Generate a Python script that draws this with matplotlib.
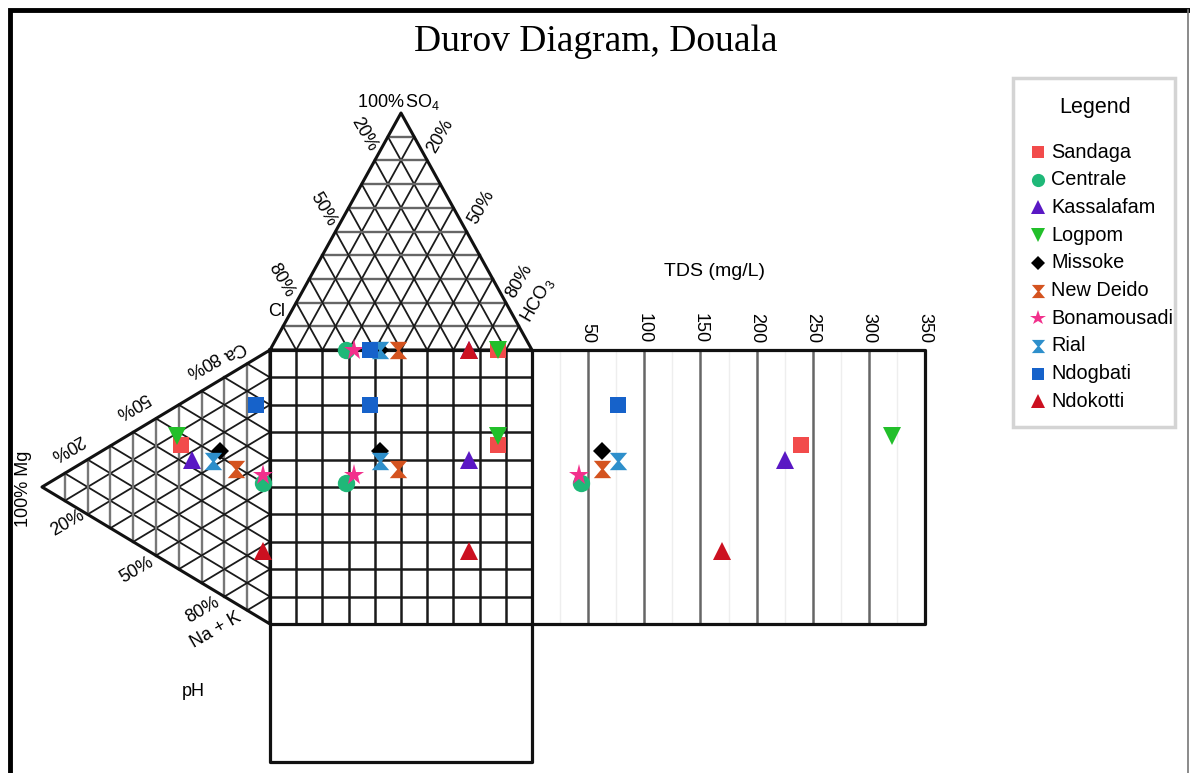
import numpy as np
import matplotlib
matplotlib.use("Agg")
import matplotlib.pyplot as plt
from matplotlib.path import Path

plt.rcParams['font.family'] = ['Liberation Sans', 'DejaVu Sans']
plt.rcParams['mathtext.fontset'] = 'custom'
plt.rcParams['mathtext.rm'] = 'Liberation Sans'
plt.rcParams['mathtext.it'] = 'Liberation Sans'

# sampling sites
sites = ['Sandaga', 'Centrale', 'Kassalafam', 'Logpom', 'Missoke',
         'New Deido', 'Bonamousadi', 'Rial', 'Ndogbati', 'Ndokotti']

# cations (% meq)
ca = [46, 50, 43, 48, 52, 49, 53, 47, 77, 25]
mg = [39, 3, 34, 41, 22, 15, 3, 25, 6, 3]
nak = [15, 47, 23, 11, 26, 36, 44, 28, 17, 72]

# anions (% meq)
hco3 = [87, 29, 76, 87, 42, 49, 32, 42, 38, 76]
so4 = [0, 0, 0, 0, 0, 0, 0, 0, 0, 0]
cl = [100 - h - s for h, s in zip(hco3, so4)]

# total dissolved solids (mg/L)
tds = [240, 44, 225, 321, 62, 62, 42, 77, 77, 169]
tds_ticks = [50, 100, 150, 200, 250, 300, 350]

hourglass = Path([(-1, 1), (1, 1), (0.15, 0), (1, -1), (-1, -1), (-0.15, 0), (-1, 1)],
                 [Path.MOVETO] + [Path.LINETO] * 5 + [Path.CLOSEPOLY])
markers = ['s', 'o', '^', 'v', 'D', hourglass, '*', hourglass, 's', '^']
colors = ['#f24b4b', '#1fb878', '#5a18c4', '#22bf2a', '#000000',
          '#d4531f', '#f2308c', '#2e8fcb', '#1662ca', '#cc1020']
sizes = [12, 12.5, 13, 13, 9.5, 12.5, 15.5, 12.5, 12, 13]
leg_sizes = [9, 9.5, 10, 10, 7.5, 9.5, 11.5, 9.5, 9, 10]

# layout of the diagram (figure pixels, y downwards)
SQ_L, SQ_R, SQ_T, SQ_B = 270, 532, 350, 624
TDS_R = 925
TDS_MAX = 350
PH_B = 762
P_CL = np.array([SQ_L, SQ_T])
P_HCO3 = np.array([SQ_R, SQ_T])
P_SO4 = np.array([401, 113])
P_CA = np.array([SQ_L, SQ_T])
P_NAK = np.array([SQ_L, SQ_B])
P_MG = np.array([42, 487])

fig = plt.figure(figsize=(11.9, 7.73), dpi=100)
ax = fig.add_axes([0, 0, 1, 1])
ax.set_xlim(0, 1190)
ax.set_ylim(773, 0)
ax.axis('off')


def ternary(a, b, c, pa, pb, pc):
    a, b, c = np.asarray(a) / 100, np.asarray(b) / 100, np.asarray(c) / 100
    pts = np.outer(a, pa) + np.outer(b, pb) + np.outer(c, pc)
    return pts[:, 0], pts[:, 1]


def tri_grid(pa, pb, pc, base_color):
    # lines parallel to side pa-pb (light), and to the two other sides (dark)
    for i in range(1, 10):
        t = i / 10
        p, q = pa + t * (pc - pa), pb + t * (pc - pb)
        ax.plot([p[0], q[0]], [p[1], q[1]], color=base_color, lw=1.7, zorder=1)
        p, q = pa + t * (pb - pa), pc + t * (pb - pc)
        ax.plot([p[0], q[0]], [p[1], q[1]], color='#1a1a1a', lw=1.3, zorder=1)
        p, q = pb + t * (pa - pb), pc + t * (pa - pc)
        ax.plot([p[0], q[0]], [p[1], q[1]], color='#1a1a1a', lw=1.3, zorder=1)
    tri = np.array([pa, pb, pc, pa])
    ax.plot(tri[:, 0], tri[:, 1], color='#111111', lw=2.2, zorder=2)


tri_grid(P_CL, P_HCO3, P_SO4, '#666666')
tri_grid(P_CA, P_NAK, P_MG, '#777777')

# central square
for i in range(1, 10):
    x = SQ_L + i * (SQ_R - SQ_L) / 10
    y = SQ_T + i * (SQ_B - SQ_T) / 10
    ax.plot([x, x], [SQ_T, SQ_B], color='#1a1a1a', lw=1.8, zorder=1)
    ax.plot([SQ_L, SQ_R], [y, y], color='#1a1a1a', lw=1.8, zorder=1)
ax.plot([SQ_L, SQ_R, SQ_R, SQ_L, SQ_L], [SQ_T, SQ_T, SQ_B, SQ_B, SQ_T],
        color='#111111', lw=2.3, zorder=2)

# TDS panel
def tds_x(v):
    return SQ_R + np.asarray(v) / TDS_MAX * (TDS_R - SQ_R)

for v in np.arange(25, TDS_MAX, 50):
    ax.plot([tds_x(v)] * 2, [SQ_T, SQ_B], color='#eeeeee', lw=1.0, zorder=1)
for v in tds_ticks[:-1]:
    ax.plot([tds_x(v)] * 2, [SQ_T, SQ_B], color='#666666', lw=1.8, zorder=1)
for v in tds_ticks:
    ax.text(tds_x(v), 343, str(v), rotation=-90, ha='center', va='bottom', fontsize=13)
ax.plot([SQ_R, TDS_R, TDS_R, SQ_R], [SQ_T, SQ_T, SQ_B, SQ_B], color='#111111', lw=2.3, zorder=2)
ax.text(715, 272, 'TDS (mg/L)', ha='center', va='center', fontsize=14)

# pH panel (no readings)
ax.plot([SQ_L, SQ_L, SQ_R, SQ_R], [SQ_B, PH_B, PH_B, SQ_B], color='#111111', lw=2.3, zorder=2)
ax.text(193, 692, 'pH', ha='center', va='center', fontsize=13)

# labels of the anion triangle
lab = dict(fontsize=13, ha='center', va='center')
ax.text(399, 102, '100%$\\,$SO$_4$', **lab)
ax.text(364, 134, '20%', rotation=-60, **lab)
ax.text(323, 209, '50%', rotation=-60, **lab)
ax.text(281, 280, '80%', rotation=-60, **lab)
ax.text(277, 312, 'Cl', **lab)
ax.text(440, 136, '20%', rotation=60, **lab)
ax.text(481, 207, '50%', rotation=60, **lab)
ax.text(519, 281, '80%', rotation=60, **lab)
ax.text(538, 300, 'HCO$_3$', rotation=60, **lab)

# labels of the cation triangle
ax.text(233, 351, 'Ca', rotation=-150, **lab)
ax.text(202, 364, '80%', rotation=-150, **lab)
ax.text(132, 405, '50%', rotation=-150, **lab)
ax.text(67, 447, '20%', rotation=-150, **lab)
ax.text(24, 489, '100% Mg', rotation=90, **lab)
ax.text(68, 523, '20%', rotation=30, **lab)
ax.text(137, 570, '50%', rotation=30, **lab)
ax.text(203, 610, '80%', rotation=30, **lab)
ax.text(216, 630, 'Na + K', rotation=30, **lab)

# sample points
ax_x, ax_y = ternary(cl, hco3, so4, P_CL, P_HCO3, P_SO4)
cx, cy = ternary(ca, nak, mg, P_CA, P_NAK, P_MG)
tx = tds_x(tds)
for i, name in enumerate(sites):
    kw = dict(marker=markers[i], color=colors[i], ms=sizes[i], ls='none',
              markeredgewidth=0, zorder=5 + i)
    ax.plot(ax_x[i], ax_y[i], **kw)
    ax.plot(cx[i], cy[i], **kw)
    ax.plot(ax_x[i], cy[i], **kw)
    ax.plot(tx[i], cy[i], **kw)

# legend box
ax.add_patch(plt.Rectangle((1013, 78), 162, 349, fill=False, ec='#d4d4d4', lw=2.5, zorder=3))
ax.text(1095, 107, 'Legend', ha='center', va='center', fontsize=15.5)
for i, name in enumerate(sites):
    y = 152 + i * 27.7
    ax.plot(1038, y, marker=markers[i], color=colors[i], ms=leg_sizes[i],
            markeredgewidth=0, ls='none', zorder=5)
    ax.text(1051, y, name, ha='left', va='center', fontsize=14.3)

ax.text(596, 42, 'Durov Diagram, Douala', ha='center', va='center',
        fontsize=27, family='Liberation Serif')

# outer frame
ax.plot([10, 10, 1190], [773, 9.5, 9.5], color='black', lw=3.5, solid_joinstyle='miter')
ax.plot([1188, 1188], [9.5, 773], color='#777777', lw=1.2)

fig.savefig('out.png', dpi=100)
